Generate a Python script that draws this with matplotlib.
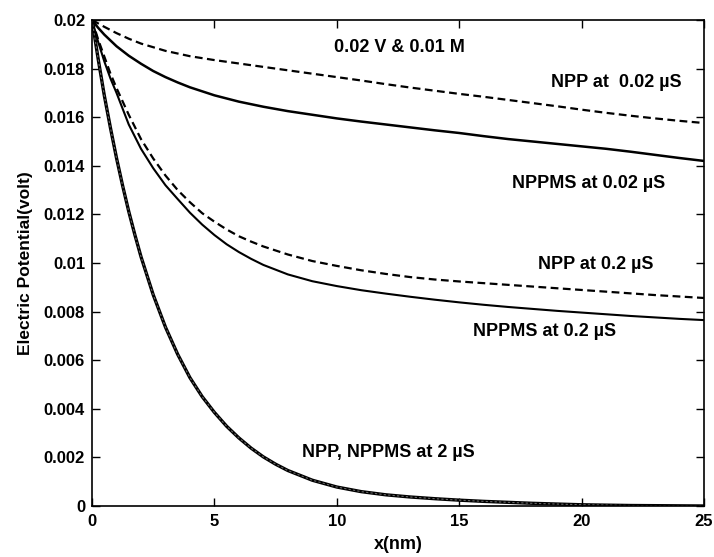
import numpy as np
import matplotlib.pyplot as plt

plt.rcParams["font.family"] = ["Liberation Sans", "DejaVu Sans"]
plt.rcParams["font.weight"] = "bold"

# x positions (nm) and potentials (volt)
x_a = [0, 0.5, 1, 1.5, 2, 3, 4, 5, 6, 7, 8, 9, 10, 11, 12, 13, 14, 15, 16, 17,
       18, 19, 20, 21, 22, 23, 24, 25]
npp_002 = [0.0200, 0.01972, 0.01946, 0.01923, 0.01903, 0.01873, 0.01851, 0.01835,
           0.01821, 0.01807, 0.01793, 0.01779, 0.01765, 0.01751, 0.01736, 0.01722,
           0.01709, 0.01696, 0.01684, 0.01671, 0.01658, 0.01645, 0.01631, 0.01618,
           0.01606, 0.01595, 0.01585, 0.01576]

x_b = [0, 0.25, 0.5, 1, 1.5, 2, 2.5, 3, 3.5, 4, 5, 6, 7, 8, 9, 10, 11, 12, 13, 14,
       15, 16, 17, 18, 19, 20, 21, 22, 23, 24, 25]
nppms_002 = [0.0200, 0.01968, 0.0194, 0.01892, 0.01853, 0.0182, 0.0179, 0.01765,
             0.01743, 0.01723, 0.0169, 0.01664, 0.01643, 0.01625, 0.0161, 0.01595,
             0.01582, 0.0157, 0.01558, 0.01546, 0.01535, 0.01522, 0.0151, 0.0150,
             0.0149, 0.0148, 0.0147, 0.01458, 0.01445, 0.01432, 0.0142]

x_c = [0, 0.25, 0.5, 0.75, 1, 1.5, 2, 2.5, 3, 3.5, 4, 4.5, 5, 5.5, 6, 6.5, 7, 8, 9,
       10, 11, 12, 13, 14, 15, 16, 17, 18, 19, 20, 21, 22, 23, 24, 25]
npp_02 = [0.0200, 0.0192, 0.0185, 0.0178, 0.0172, 0.0161, 0.0151, 0.0143, 0.0136,
          0.0130, 0.0125, 0.01205, 0.0117, 0.01138, 0.0111, 0.01088, 0.01068, 0.01035,
          0.01008, 0.00988, 0.0097, 0.00955, 0.00942, 0.00932, 0.00924, 0.00917,
          0.0091, 0.00903, 0.00896, 0.00889, 0.00882, 0.00875, 0.00868, 0.00862,
          0.00856]
nppms_02 = [0.0200, 0.0191, 0.0183, 0.0176, 0.0170, 0.0157, 0.0147, 0.0139, 0.0132,
            0.01263, 0.01207, 0.01158, 0.01115, 0.01077, 0.01045, 0.01017, 0.00992,
            0.00953, 0.00925, 0.00905, 0.00888, 0.00874, 0.00861, 0.00849, 0.00838,
            0.00828, 0.00819, 0.00811, 0.00803, 0.00796, 0.00789, 0.00782, 0.00776,
            0.0077, 0.00765]

x_d = [0, 0.25, 0.5, 0.75, 1, 1.25, 1.5, 1.75, 2, 2.5, 3, 3.5, 4, 4.5, 5, 5.5, 6,
       6.5, 7, 7.5, 8, 9, 10, 11, 12, 13, 14, 15, 16, 17, 18, 19, 20, 22, 25]
both_2 = [0.0200, 0.0184, 0.0169, 0.01557, 0.01432, 0.01318, 0.01212, 0.01116,
          0.01026, 0.00869, 0.00736, 0.00624, 0.00528, 0.0045, 0.00385, 0.00328,
          0.0028, 0.00238, 0.00202, 0.00172, 0.00146, 0.00106, 0.00078, 0.00059,
          0.00046, 0.00037, 0.0003, 0.00024, 0.00019, 0.00015, 0.00011, 0.00008,
          0.00005, 0.00002, 0.0]

fig = plt.figure(figsize=(7.14, 5.57), dpi=100)
ax = fig.add_axes([0.1289, 0.0916, 0.857, 0.8725])

ax.plot(x_a, npp_002, color="k", lw=1.6, dashes=(3.5, 2))
ax.plot(x_b, nppms_002, color="k", lw=1.8)
ax.plot(x_c, npp_02, color="k", lw=1.6, dashes=(3.5, 2))
ax.plot(x_c, nppms_02, color="k", lw=1.5)
ax.plot(x_d, both_2, color="k", lw=2.4)
ax.plot(x_d, both_2, color="0.4", lw=0.8, dashes=(2, 2))

txt = dict(fontsize=13, fontweight="bold", ha="center", va="center")
ax.text(12.54, 0.01885, "0.02 V & 0.01 M", **txt)
ax.text(21.4, 0.01741, "NPP at  0.02 \u00b5S", **txt)
ax.text(20.3, 0.01329, "NPPMS at 0.02 \u00b5S", **txt)
ax.text(20.6, 0.00992, "NPP at 0.2 \u00b5S", **txt)
ax.text(18.5, 0.00716, "NPPMS at 0.2 \u00b5S", **txt)
ax.text(12.1, 0.00222, "NPP, NPPMS at 2 \u00b5S", **txt)

ax.set_xlim(0, 25)
ax.set_ylim(0, 0.02)
ax.set_xticks([0, 5, 10, 15, 20, 25])
yt = np.arange(0, 0.0201, 0.002)
ax.set_yticks(yt)
ax.set_yticklabels(["%g" % round(v, 3) for v in yt])
ax.tick_params(direction="in", length=6, width=1, top=True, right=True, labelsize=12)
ax.tick_params(axis="x", pad=6)
ax.tick_params(axis="y", pad=5)
for lab in ax.get_xticklabels() + ax.get_yticklabels():
    lab.set_fontweight("bold")
for s in ax.spines.values():
    s.set_linewidth(1.2)

ax.set_xlabel("x(nm)", fontsize=13, fontweight="bold", labelpad=5)
ax.set_ylabel("Electric Potential(volt)", fontsize=12.5, fontweight="bold", labelpad=8)

fig.savefig("out.png", dpi=100)
